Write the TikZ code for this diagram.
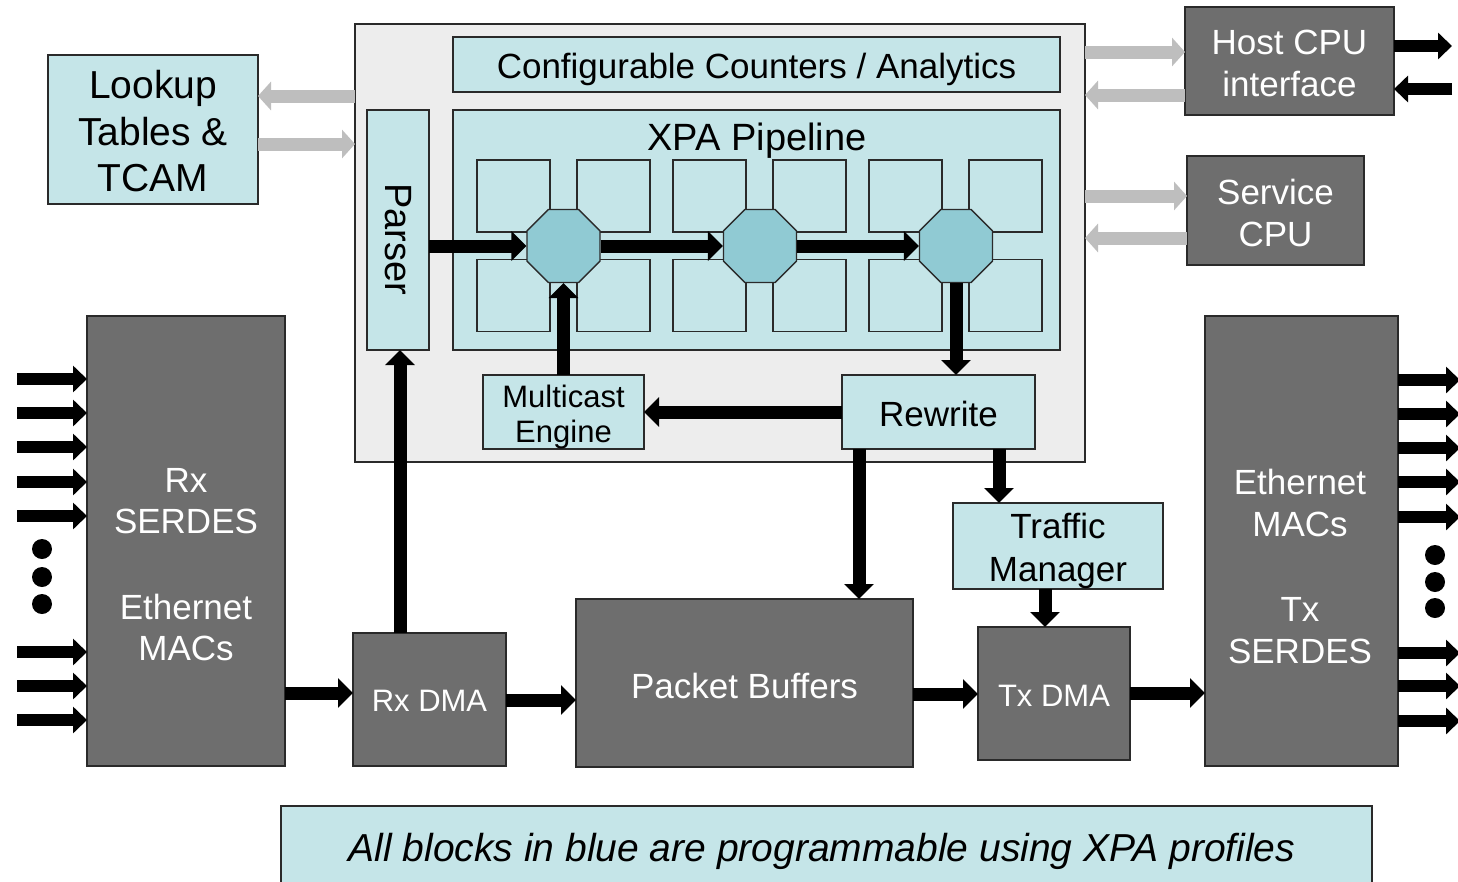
\documentclass[tikz,border=0pt]{standalone}
\usepackage{fontspec}
\setmainfont{Liberation Sans}
\usetikzlibrary{arrows.meta,shapes.geometric,calc}
\definecolor{lblue}{HTML}{C5E5E8}
\definecolor{dgray}{HTML}{6E6E6E}
\definecolor{octc}{HTML}{90CAD3}
\definecolor{garrc}{HTML}{BEBEBE}
\definecolor{xpabg}{HTML}{EDEDED}
\definecolor{edgec}{HTML}{2A2A2A}
\begin{document}
\begin{tikzpicture}[x=1pt,y=-1pt,
  box/.style={draw=edgec,line width=1.5pt,inner sep=0pt,outer sep=0pt,align=center},
  bbox/.style={box,fill=lblue,text=black},
  dbox/.style={box,fill=dgray,text=white},
  lbl/.style={align=center,inner sep=0pt,text=black},
  wlbl/.style={align=center,inner sep=0pt,text=white},
  sqbox/.style={draw=edgec,line width=1.2pt,fill=lblue,minimum width=73pt,minimum height=72pt,inner sep=0pt},
  octbox/.style={regular polygon,regular polygon sides=8,minimum size=79pt,draw=edgec,line width=1.3pt,fill=octc,inner sep=0pt},
  barr/.style={line width=13pt,-{Triangle[length=15pt,width=29pt]}},
  sarr/.style={line width=12pt,-{Triangle[length=14pt,width=26pt]}},
  garr/.style={draw=garrc,line width=13pt,-{Triangle[length=13pt,width=28pt]}},
  fA/.style={font=\fontsize{35}{42}\selectfont},
  fB/.style={font=\fontsize{31}{35}\selectfont},
  fC/.style={font=\fontsize{38}{46}\selectfont},
  dotn/.style={circle,fill=black,minimum size=20pt,inner sep=0pt},
]
\useasboundingbox (0,0) rectangle (1458,881);
\clip (0,0) rectangle (1458,881);
\fill[white] (0,0) rectangle (1458,881);

% XPA block
\node[box,fill=xpabg,minimum width=730pt,minimum height=438pt] (xpa) at (720,243) {};
\node[bbox,minimum width=607pt,minimum height=55pt] (cnt) at (756.5,64.5) {};
\node[lbl,fA] (cnttxt) at (756.5,69) {Configurable Counters / Analytics};
\node[bbox,minimum width=607pt,minimum height=240pt] (pipe) at (756.5,230) {};
\node[lbl,fC] (pipetitle) at (757,141) {XPA Pipeline};
\node[bbox,minimum width=62pt,minimum height=240pt] (parser) at (398,230) {};
\node[lbl,fC,rotate=-90] (parsertxt) at (398,239) {Parser};

% pipeline squares
\node[sqbox] (s1) at (513.5,196) {};
\node[sqbox] (s2) at (613.5,196) {};
\node[sqbox] (s3) at (709.5,196) {};
\node[sqbox] (s4) at (809.5,196) {};
\node[sqbox] (s5) at (905.5,196) {};
\node[sqbox] (s6) at (1005.5,196) {};
\node[sqbox] (s7) at (513.5,295.5) {};
\node[sqbox] (s8) at (613.5,295.5) {};
\node[sqbox] (s9) at (709.5,295.5) {};
\node[sqbox] (s10) at (809.5,295.5) {};
\node[sqbox] (s11) at (905.5,295.5) {};
\node[sqbox] (s12) at (1005.5,295.5) {};
\node[octbox] (o1) at (563.5,246) {};
\node[octbox] (o2) at (760,246) {};
\node[octbox] (o3) at (956,246) {};

\node[bbox,minimum width=161pt,minimum height=74pt] (mc) at (563.5,412) {};
\node[lbl,fB] (mctxt) at (563.5,417) {Multicast\\Engine};
\node[bbox,minimum width=193pt,minimum height=74pt] (rw) at (938.5,412) {};
\node[lbl,fA] (rwtxt) at (938.5,414) {Rewrite};

% side blocks
\node[bbox,minimum width=210pt,minimum height=149pt] (lut) at (153,129.5) {};
\node[lbl,font=\fontsize{39}{46.5}\selectfont] (luttxt) at (153,131.5) {Lookup\\Tables \&\\TCAM};
\node[dbox,minimum width=209pt,minimum height=108pt] (host) at (1289.5,61) {};
\node[wlbl,fA] (hosttxt) at (1289.5,63) {Host CPU\\interface};
\node[dbox,minimum width=177pt,minimum height=109pt] (svc) at (1275.5,210.5) {};
\node[wlbl,fA] (svctxt) at (1275.5,212.5) {Service\\CPU};

% datapath
\node[bbox,minimum width=210pt,minimum height=86pt] (tm) at (1058,546) {};
\node[lbl,font=\fontsize{35}{43}\selectfont] (tmtxt) at (1058,551) {Traffic\\Manager};
\node[dbox,minimum width=152pt,minimum height=133pt] (txdma) at (1054,693.5) {};
\node[wlbl,fB] (txdmatxt) at (1054,695.5) {Tx DMA};
\node[dbox,minimum width=337pt,minimum height=168pt] (pb) at (744.5,683) {};
\node[wlbl,fA] (pbtxt) at (744.5,686) {Packet Buffers};
\node[dbox,minimum width=153pt,minimum height=133pt] (rxdma) at (429.5,699.5) {};
\node[wlbl,fB] (rxdmatxt) at (429.5,701) {Rx DMA};
\node[dbox,minimum width=198pt,minimum height=450pt] (rxs) at (186,541) {};
\node[wlbl,font=\fontsize{35}{41}\selectfont] (rxstxt) at (186,565) {Rx\\SERDES\\[45pt]Ethernet\\MACs};
\node[dbox,minimum width=193pt,minimum height=450pt] (txm) at (1301.5,541) {};
\node[wlbl,font=\fontsize{35}{42}\selectfont] (txmtxt) at (1300,566) {Ethernet\\MACs\\[43pt]Tx\\SERDES};

% note
\node[bbox,minimum width=1091pt,minimum height=84pt] (note) at (826.5,848) {};
\node[lbl,font=\fontsize{39}{46}\selectfont\itshape] (notetxt) at (822,851) {All blocks in blue are programmable using XPA profiles};

% gray arrows
\draw[garr] (xpa.west |- 0,96) -- (lut.east |- 0,96);
\draw[garr] (lut.east |- 0,144) -- (xpa.west |- 0,144);
\draw[garr] (xpa.east |- 0,52) -- (host.west |- 0,52);
\draw[garr] (host.west |- 0,95) -- (xpa.east |- 0,95);
\draw[garr] (xpa.east |- 0,196) -- (svc.west |- 0,196);
\draw[garr] (svc.west |- 0,238) -- (xpa.east |- 0,238);

% host external arrows
\coordinate (hostout) at (1452,46);
\coordinate (hostin) at (1452,89);
\draw[sarr] (host.east |- hostout) -- (hostout);
\draw[sarr] (hostin) -- (host.east |- hostin);

% pipeline arrows
\draw[barr] (parser.east |- o1.west) -- (o1.west);
\draw[barr] (o1.east) -- (o2.west);
\draw[barr] (o2.east) -- (o3.west);
\draw[barr] (mc.north -| o1.south) -- (o1.south);
\draw[barr] (o3.south) -- (o3.south |- rw.north);
\draw[barr] (rw.west) -- (rw.west -| mc.east);
\draw[barr] ([xshift=17pt]rw.south west) -- ([xshift=17pt]rw.south west |- pb.north);
\draw[barr] ([xshift=157pt]rw.south west) -- ([xshift=157pt]rw.south west |- tm.north);
\draw[barr] ([xshift=-13pt]tm.south) -- ([xshift=-13pt]tm.south |- txdma.north);
\draw[barr] ([xshift=2pt]rxdma.north -| parser.south) -- ([xshift=2pt]parser.south);
\draw[barr] (rxs.east |- 0,693) -- (rxdma.west |- 0,693);
\draw[barr] (rxdma.east |- 0,700) -- (pb.west |- 0,700);
\draw[barr] (pb.east |- 0,694) -- (txdma.west |- 0,694);
\draw[barr] (txdma.east |- 0,693) -- (txm.west |- 0,693);

% serdes lanes
\foreach \yy in {379,413,447,482,516,652,686,720} {
  \coordinate (in\yy) at (17,\yy);
  \draw[sarr] (in\yy) -- (rxs.west |- in\yy);
}
\foreach \yy in {380,414,448,482,517,653,686,721} {
  \coordinate (out\yy) at (1460,\yy);
  \draw[sarr] (txm.east |- out\yy) -- (out\yy);
}
\node[dotn] (dl1) at (42,549) {};
\node[dotn] (dl2) at (42,577) {};
\node[dotn] (dl3) at (42,604) {};
\node[dotn] (dr1) at (1435,555) {};
\node[dotn] (dr2) at (1435,582) {};
\node[dotn] (dr3) at (1435,608) {};
\end{tikzpicture}
\end{document}
